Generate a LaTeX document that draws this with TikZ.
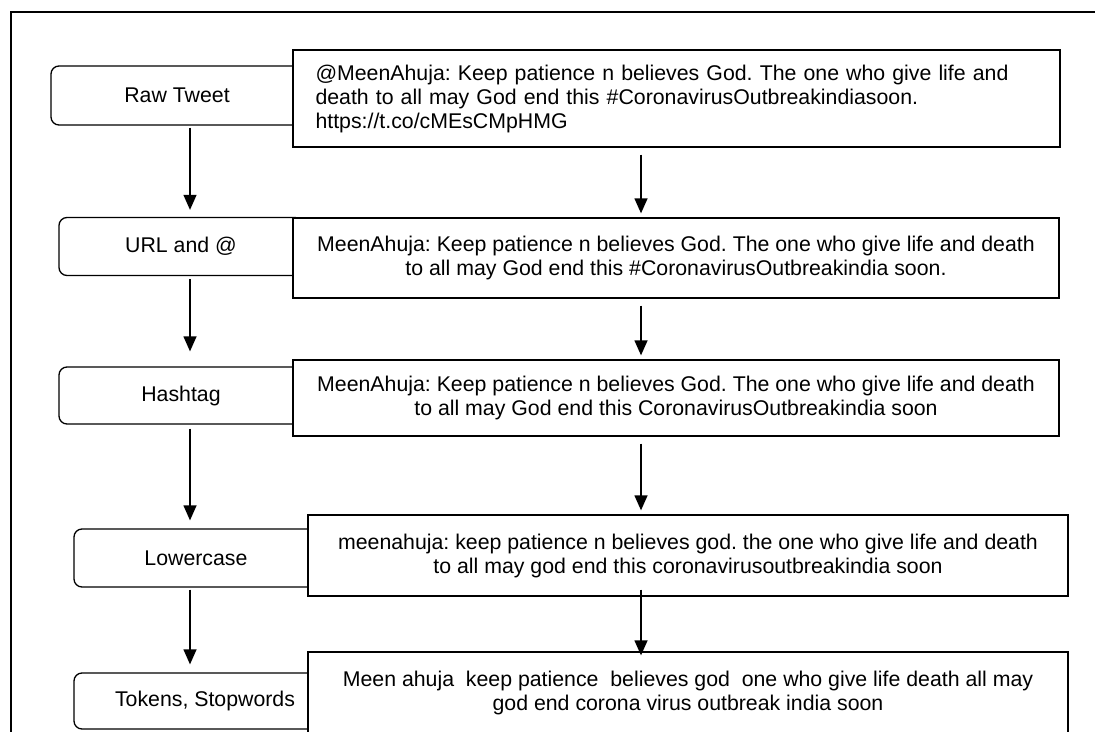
\documentclass[tikz,border=0pt]{standalone}
\usepackage{fontspec}
\setmainfont{Liberation Sans}
\usetikzlibrary{arrows.meta}
\frenchspacing
\begin{document}
\begin{tikzpicture}[x=1pt,y=-1pt,
  every node/.style={font=\fontsize{21.3}{24}\selectfont, inner sep=0pt},
  stage/.style={draw, line width=1.3pt, rounded corners=8pt, fill=white},
  textbox/.style={draw, line width=1.3pt, fill=white, align=center},
  arr/.style={line width=1.3pt, -{Triangle[length=15pt,width=13pt]}},
  frame/.style={line width=1.3pt}]
\useasboundingbox (0,0) rectangle (1095,731);
\clip (0,0) rectangle (1095,731);
\coordinate (fb) at (11,745);
\coordinate (fc) at (11,12);
\coordinate (fr) at (1100,12);
\draw[frame] (fb) -- (fc) -- (fr);
% stages
\node[stage, minimum width=252pt, minimum height=59pt] (s1) at (177,95.5) {Raw Tweet};
\node[stage, minimum width=244pt, minimum height=58pt] (s2) at (181,246.5) {URL and @};
\node[stage, minimum width=244pt, minimum height=57pt] (s3) at (181,395.5) {Hashtag};
\node[stage, minimum width=244pt, minimum height=58pt] (s4) at (196,558) {Lowercase};
\node[stage, minimum width=262pt, minimum height=56pt] (s5) at (205,701) {Tokens, Stopwords};
% text boxes
\node[textbox, align=left, text width=722pt, inner xsep=22pt, minimum width=767pt, minimum height=97pt] (r1) at (676.5,98.5)
  {@MeenAhuja: Keep patience n believes God. The one who give life and\\ death to all may God end this \#CoronavirusOutbreakindiasoon.\\ https://t.co/cMEsCMpHMG};
\node[textbox, minimum width=766pt, minimum height=80pt] (r2) at (676,258)
  {MeenAhuja: Keep patience n believes God. The one who give life and death\\ to all may God end this \#CoronavirusOutbreakindia soon.};
\node[textbox, minimum width=766pt, minimum height=76pt] (r3) at (676,398)
  {MeenAhuja: Keep patience n believes God. The one who give life and death\\ to all may God end this CoronavirusOutbreakindia soon};
\node[textbox, minimum width=760pt, minimum height=81pt] (r4) at (688,555.5)
  {meenahuja: keep patience n believes god. the one who give life and death\\ to all may god end this coronavirusoutbreakindia soon};
\node[textbox, minimum width=760pt, minimum height=82pt] (r5) at (688,693)
  {Meen ahuja\ \ keep patience\ \ believes god\ \ one who give life death all may\\ god end corona virus outbreak india soon};
% arrows
\coordinate (lx) at (190,0);
\coordinate (rx) at (641,0);
\draw[arr, shorten <=2pt, shorten >=7pt] (s1.south -| lx) -- (s2.north -| lx);
\draw[arr, shorten <=3pt, shorten >=15pt] (s2.south -| lx) -- (s3.north -| lx);
\draw[arr, shorten <=4pt, shorten >=8pt] (s3.south -| lx) -- (s4.north -| lx);
\draw[arr, shorten <=2pt, shorten >=8pt] (s4.south -| lx) -- (s5.north -| lx);
\draw[arr, shorten <=7pt, shorten >=4pt] (r1.south -| rx) -- (r2.north -| rx);
\draw[arr, shorten <=7pt, shorten >=4pt] (r2.south -| rx) -- (r3.north -| rx);
\draw[arr, shorten <=7pt, shorten >=4pt] (r3.south -| rx) -- (r4.north -| rx);
\draw[arr, shorten <=-7pt, shorten >=-4pt] (r4.south -| rx) -- (r5.north -| rx);
\end{tikzpicture}
\end{document}
